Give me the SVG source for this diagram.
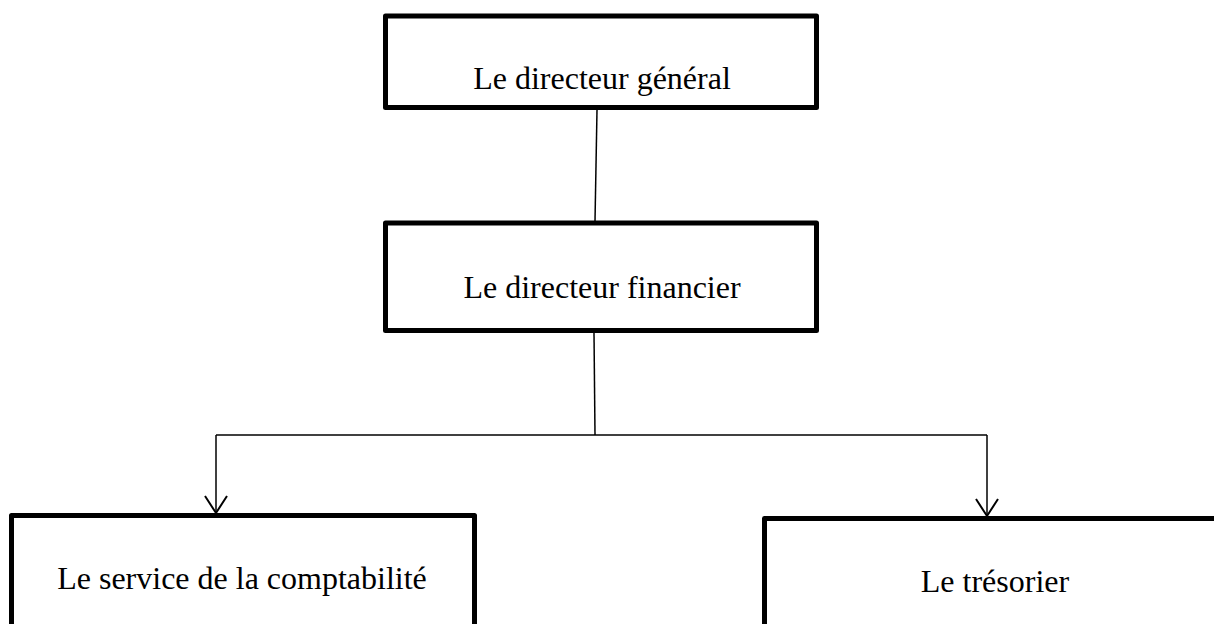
<svg xmlns="http://www.w3.org/2000/svg" width="1214" height="624" viewBox="0 0 1214 624">
  <style>
    .box { fill: #ffffff; stroke: #000000; stroke-width: 5; stroke-linejoin: round; }
    .label { font-family: "Liberation Serif", "Times New Roman", serif; font-size: 32px; fill: #000000; text-anchor: middle; }
    .link { fill: none; stroke: #000000; stroke-width: 1.5; }
  </style>
  <defs>
    <!-- open V arrowhead, drawn along +x so orient="auto" follows the line -->
    <marker id="open-arrow" markerUnits="userSpaceOnUse" markerWidth="22" markerHeight="26" refX="19" refY="12" orient="auto" viewBox="0 0 22 24">
      <path d="M2 1 L19 12 L2 23" fill="none" stroke="#000000" stroke-width="2"/>
    </marker>
  </defs>
  <rect width="1214" height="624" fill="#ffffff"/>

  <!-- reporting lines -->
  <g id="connectors">
    <line class="link" x1="597" y1="110" x2="595" y2="221"/>
    <line class="link" x1="594" y1="333" x2="595" y2="435"/>
    <line class="link" x1="216" y1="435" x2="987" y2="435"/>
    <path class="link" d="M216 435 L216 513" marker-end="url(#open-arrow)"/>
    <path class="link" d="M987 435 L987 516" marker-end="url(#open-arrow)"/>
  </g>

  <g id="directeur-general">
    <rect class="box" x="385.5" y="16" width="431" height="91.5"/>
    <text class="label" x="602" y="89">Le directeur général</text>
  </g>

  <g id="directeur-financier">
    <rect class="box" x="385.5" y="223" width="431" height="107.5"/>
    <text class="label" x="602" y="298">Le directeur financier</text>
  </g>

  <g id="service-comptabilite">
    <rect class="box" x="11.5" y="515.5" width="463" height="140"/>
    <text class="label" x="242" y="589">Le service de la comptabilité</text>
  </g>

  <g id="tresorier">
    <rect class="box" x="764.5" y="518.5" width="470" height="140"/>
    <text class="label" x="995" y="592">Le trésorier</text>
  </g>
</svg>
